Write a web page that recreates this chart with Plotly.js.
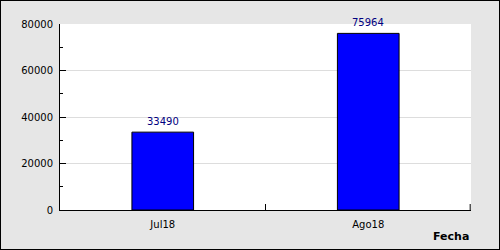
<!DOCTYPE html>
<html><head>
<script src="https://cdn.plot.ly/plotly-3.0.1.min.js"></script>
<style>
html,body{margin:0;padding:0;background:#e6e6e6;}
#chart{width:498px;height:248px;border:1px solid #000;}
</style>
</head><body>
<div id="chart"></div>
<script>
const categories = ["Jul18", "Ago18"];
const values = [33490, 75964];
const xTitle = "Fecha";

const trace = {
  type: "bar",
  x: categories,
  y: values,
  marker: {color: "#0000ff", line: {color: "#000000", width: 1}},
  hoverinfo: "none"
};

const valueLabels = categories.map((c, i) => ({
  x: c, y: values[i], xref: "x", yref: "y",
  text: String(values[i]), showarrow: false,
  yanchor: "bottom", yshift: 3,
  font: {family: "DejaVu Sans", size: 10, color: "#000080"}
}));

// closing category-boundary tick at the right end of the x axis
const endTick = {
  type: "line", xref: "paper", x0: 0.998, x1: 0.998,
  yref: "y", ysizemode: "pixel", yanchor: 0, y0: 0, y1: 6,
  line: {color: "#000", width: 1}, layer: "above"
};

const layout = {
  width: 498, height: 248,
  margin: {l: 59, r: 28, t: 23, b: 39},
  paper_bgcolor: "#e6e6e6",
  plot_bgcolor: "#ffffff",
  bargap: 0.7,
  showlegend: false,
  font: {family: "DejaVu Sans", size: 10, color: "#000"},
  xaxis: {
    type: "category",
    range: [-0.5, 1.5],
    showline: true, linecolor: "#000", linewidth: 1,
    ticks: "inside", tickson: "boundaries", ticklen: 6, tickcolor: "#000",
    showgrid: false, zeroline: false,
    ticklabelstandoff: 5,
    tickfont: {family: "DejaVu Sans", size: 10, color: "#000"}
  },
  yaxis: {
    range: [0, 80000], dtick: 20000, tick0: 0, tickformat: "d",
    showline: true, linecolor: "#000", linewidth: 1,
    ticks: "inside", ticklen: 6, tickcolor: "#000",
    minor: {ticks: "inside", ticklen: 3, dtick: 10000, tickcolor: "#000", showgrid: false},
    showgrid: true, gridcolor: "#dddddd", gridwidth: 1,
    zeroline: false,
    tickfont: {family: "DejaVu Sans", size: 10, color: "#000"},
    ticklabelstandoff: 4
  },
  shapes: [endTick],
  annotations: valueLabels.concat([{
    text: "<b>" + xTitle + "</b>",
    xref: "paper", yref: "paper", x: 1, y: 0, yshift: -26,
    xanchor: "right", yanchor: "middle", showarrow: false,
    font: {family: "DejaVu Sans", size: 11, color: "#000"}
  }])
};

Plotly.newPlot("chart", [trace], layout, {displayModeBar: false, staticPlot: true});
</script>
</body></html>
